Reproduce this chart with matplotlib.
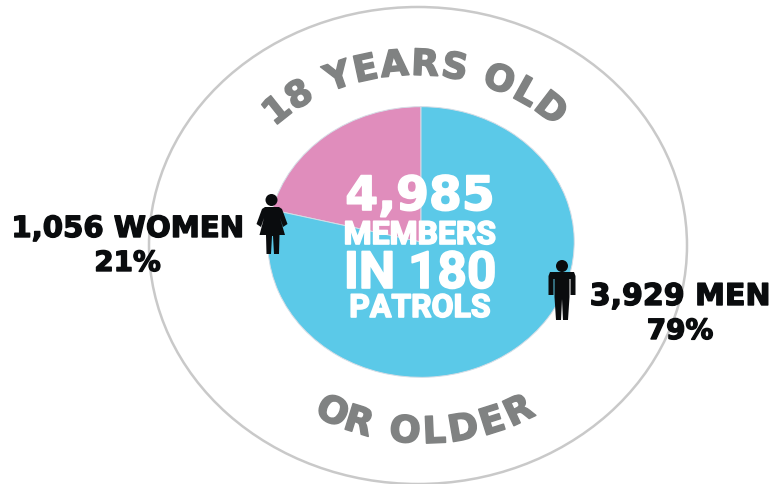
import matplotlib
matplotlib.use('Agg')
import matplotlib.pyplot as plt
import matplotlib.patheffects as pe
from matplotlib.patches import Ellipse, Polygon, Circle
from matplotlib.textpath import TextPath
from matplotlib.font_manager import FontProperties
import numpy as np

W, H = 770, 485

# data
groups = ['Women', 'Men']
members = [1056, 3929]
colors = ['#E08DBC', '#5BC9E8']
center_lines = ['4,985', 'MEMBERS', 'IN 180', 'PATROLS']
top_arc = '18 YEARS OLD'
bottom_arc = 'OR OLDER'
women_lines = ['1,056 WOMEN', '21%']
men_lines = ['3,929 MEN', '79%']

GREY = '#808282'
BLACK = '#0a0c0e'

fig = plt.figure(figsize=(W / 100, H / 100), dpi=100, facecolor='white')
ax = fig.add_axes([0, 0, 1, 1])
ax.set_xlim(0, W)
ax.set_ylim(H, 0)
ax.axis('off')


def curved(text, cx, cy, rx, ry, size, bottom=False, spacing=0.0):
    # one text per letter, walked along an ellipse
    fp = FontProperties(family='DejaVu Sans', weight='bold', size=size)
    bar = TextPath((0, 0), '|', prop=fp).get_extents().x1
    adv = []
    for i in range(len(text)):
        w = TextPath((0, 0), text[:i + 1] + '|', prop=fp).get_extents().x1 - bar
        adv.append(w * 100 / 72 + spacing * i)
    total = adv[-1]
    t = np.radians(np.linspace(-120, 120, 4801))
    px = cx + rx * np.sin(t)
    py = cy + ry * np.cos(t) if bottom else cy - ry * np.cos(t)
    s = np.concatenate([[0], np.cumsum(np.hypot(np.diff(px), np.diff(py)))])
    s0 = np.interp(0, t, s) - total / 2
    starts = [0] + adv[:-1]
    for ch, off, end in zip(text, starts, adv):
        tt = np.interp(s0 + (off + end) / 2, s, t)
        half = (end - off - spacing) / 2
        x = cx + rx * np.sin(tt)
        y = cy + ry * np.cos(tt) if bottom else cy - ry * np.cos(tt)
        if bottom:
            ang = np.degrees(np.arctan2(ry * np.sin(tt), rx * np.cos(tt)))
        else:
            ang = np.degrees(np.arctan2(-ry * np.sin(tt), rx * np.cos(tt)))
        a = np.radians(ang)
        ax.text(x - half * np.cos(a), y + half * np.sin(a), ch,
                family='DejaVu Sans', fontweight='bold', fontsize=size, color=GREY,
                ha='left', va='baseline', rotation=ang, rotation_mode='anchor',
                path_effects=[pe.withStroke(linewidth=1.1, foreground=GREY)])


# outer ring
ax.add_patch(Ellipse((418, 246.5), 538, 477, fill=False, edgecolor='#c9c9c9', linewidth=1.8))

curved(top_arc, 415, 243, 194, 167, 26, spacing=1.5)
curved(bottom_arc, 425, 244, 217, 200, 26.5, bottom=True, spacing=3.5)

# pie, stretched to the ellipse of the reference
pie_ax = fig.add_axes([(421 - 154) / W, 1 - (243 + 136) / H, 308 / W, 272 / H])
pie_ax.pie(members, colors=colors, startangle=90, counterclock=True, radius=1,
           wedgeprops={'edgecolor': '#d5dde6', 'linewidth': 0.7})
pie_ax.set_aspect('auto')
pie_ax.set_xlim(-1.005, 1.005)
pie_ax.set_ylim(-1.005, 1.005)
pie_ax.patch.set_alpha(0)

# text goes above the pie
top = fig.add_axes([0, 0, 1, 1])
top.set_xlim(0, W)
top.set_ylim(H, 0)
top.axis('off')

center_y = [211, 245, 289, 318]
center_size = [34, 23, 37, 23]
center_font = ['DejaVu Sans', 'Roboto', 'Roboto', 'Roboto']
for line, y, size, font in zip(center_lines, center_y, center_size, center_font):
    top.text(420, y, line, family=font, fontweight='bold', fontsize=size, color='white',
             ha='center', va='baseline',
             path_effects=[pe.withStroke(linewidth=1.2, foreground='white')])

for lines, xc, ys, sizes in [(women_lines, 127.5, (238, 272), (21, 20)),
                             (men_lines, 680, (306, 340), (21.6, 20))]:
    for line, y, size in zip(lines, ys, sizes):
        top.text(xc, y, line, family='DejaVu Sans', fontweight='bold', fontsize=size, color=BLACK,
                 ha='center', va='baseline',
                 path_effects=[pe.withStroke(linewidth=1.0, foreground=BLACK)])

# man icon
top.add_patch(Circle((562, 267), 6, color=BLACK, lw=0))
top.add_patch(Polygon([(550, 273), (574, 273), (575.5, 277), (575.5, 296), (570.5, 296), (570.5, 280),
                       (569.5, 280), (569.5, 298), (568, 321), (563, 321), (562, 300), (561, 321),
                       (556, 321), (554.5, 298), (554.5, 280), (553.5, 280), (553.5, 296),
                       (548.5, 296), (548.5, 277)], closed=True, color=BLACK, lw=0))

# woman icon
top.add_patch(Circle((271.5, 201), 6, color=BLACK, lw=0))
top.add_patch(Polygon([(265, 208), (279, 208), (282, 210), (287.5, 225), (283, 228), (280, 219),
                       (285, 236), (279.5, 236), (279, 255), (274, 255), (273, 237), (272, 237),
                       (271, 255), (266.5, 255), (266, 236), (259.5, 236), (264, 219), (261, 228),
                       (256.5, 225), (262, 210)], closed=True, color=BLACK, lw=0))

fig.savefig('out.png', dpi=100)
